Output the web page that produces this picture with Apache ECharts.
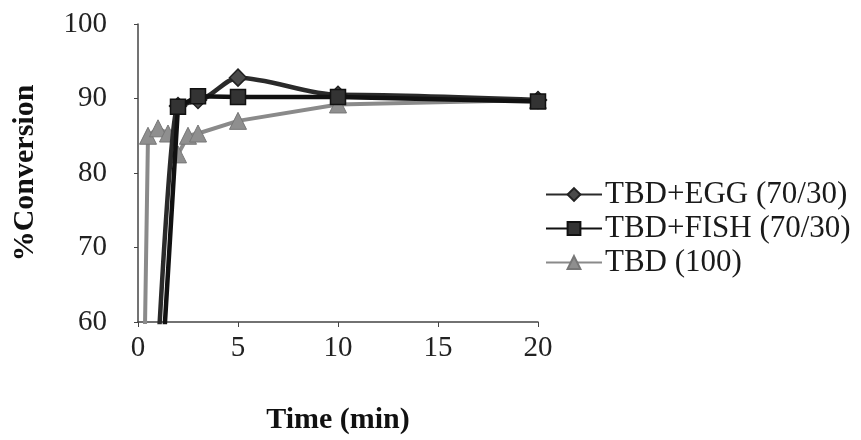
<!DOCTYPE html>
<html>
<head>
<meta charset="utf-8">
<script src="https://cdn.jsdelivr.net/npm/echarts@6/dist/echarts.min.js"></script>
<style>html,body{margin:0;padding:0;background:#fff}#c{width:861px;height:440px}</style>
</head>
<body>
<div id="c"></div>
<script>
var xTicks = [0, 5, 10, 15, 20];
var yTicks = [60, 70, 80, 90, 100];
var seriesNames = ['TBD+EGG (70/30)', 'TBD+FISH (70/30)', 'TBD (100)'];
var eggX = [0, 2, 3, 5, 10, 20];
var eggY = [0, 89, 89.8, 92.8, 90.5, 89.8];
var fishX = [0, 2, 3, 5, 10, 20];
var fishY = [0, 88.9, 90.3, 90.2, 90.2, 89.6];
var tbdX = [0, 0.5, 1, 1.5, 2, 2.5, 3, 5, 10, 20];
var tbdY = [0, 85, 86, 85.3, 82.5, 85, 85.3, 87, 89.2, 89.8];

function pairs(xs, ys) { return xs.map(function (x, i) { return [x, ys[i]]; }); }
var serif = '"Liberation Serif","Times New Roman",serif';

var chart = echarts.init(document.getElementById('c'), null, {renderer: 'canvas'});
chart.setOption({
  animation: false,
  backgroundColor: '#ffffff',
  grid: {left: 138, right: 323, top: 24, bottom: 111, containLabel: false},
  legend: {
    orient: 'vertical', left: 540, top: 174, itemGap: 3, itemWidth: 56, itemHeight: 16,
    textStyle: {fontFamily: serif, fontSize: 31, color: '#1a1a1a', padding: [0, 0, 0, -2]},
    data: seriesNames
  },
  xAxis: {
    type: 'value', min: xTicks[0], max: xTicks[xTicks.length - 1], interval: 5,
    name: 'Time (min)', nameLocation: 'middle', nameGap: 83,
    nameTextStyle: {fontFamily: serif, fontSize: 30, fontWeight: 'bold', color: '#111'},
    axisLine: {show: true, lineStyle: {color: '#444', width: 1.5}},
    axisTick: {show: true, inside: false, length: 5, lineStyle: {color: '#444'}},
    axisLabel: {fontFamily: serif, fontSize: 29, color: '#222', margin: 12},
    splitLine: {show: false}
  },
  yAxis: {
    type: 'value', min: yTicks[0], max: yTicks[yTicks.length - 1], interval: 10,
    name: '%Conversion', nameLocation: 'middle', nameGap: 98, nameRotate: 90,
    nameTextStyle: {fontFamily: serif, fontSize: 30, fontWeight: 'bold', color: '#111'},
    axisLine: {show: true, lineStyle: {color: '#444', width: 1.5}},
    axisTick: {show: true, inside: false, length: 4, lineStyle: {color: '#444'}},
    axisLabel: {fontFamily: serif, fontSize: 29, color: '#222', margin: 31},
    splitLine: {show: false}
  },
  series: [
    {
      name: seriesNames[0], type: 'line', data: pairs(eggX, eggY), clip: true,
      smooth: 0.3, smoothMonotone: 'x',
      symbol: 'diamond', symbolSize: 17, showAllSymbol: true,
      lineStyle: {color: '#2a2a2a', width: 4.5},
      itemStyle: {color: '#4a4a4a', borderColor: '#222', borderWidth: 1.5},
      z: 3
    },
    {
      name: seriesNames[1], type: 'line', data: pairs(fishX, fishY), clip: true,
      symbol: 'rect', symbolSize: 15, showAllSymbol: true,
      lineStyle: {color: '#111', width: 4.5},
      itemStyle: {color: '#333', borderColor: '#111', borderWidth: 1.5},
      z: 4
    },
    {
      name: seriesNames[2], type: 'line', data: pairs(tbdX, tbdY), clip: true,
      symbol: 'triangle', symbolSize: 17, showAllSymbol: true,
      lineStyle: {color: '#8a8a8a', width: 4},
      itemStyle: {color: '#8f8f8f', borderColor: '#777', borderWidth: 1},
      z: 2
    }
  ]
});
</script>
</body>
</html>
